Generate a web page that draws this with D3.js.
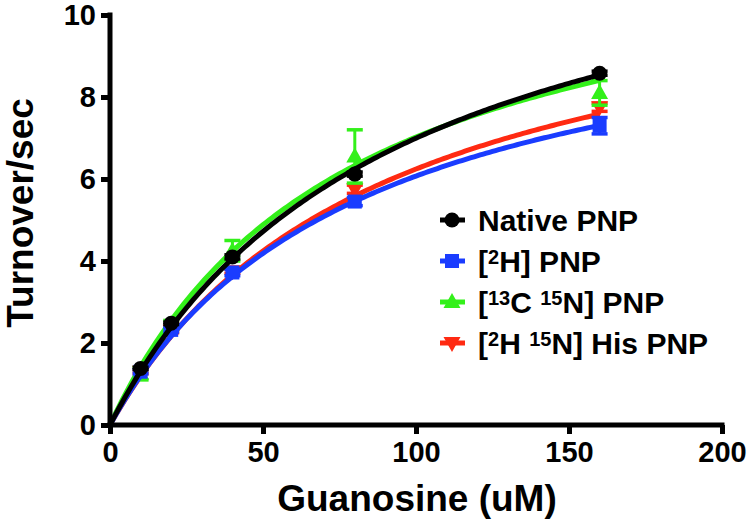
<!DOCTYPE html>
<html>
<head>
<meta charset="utf-8">
<script src="https://cdn.jsdelivr.net/npm/d3@7"></script>
<style>
body{margin:0;background:#fff;}
svg{display:block;font-family:"Liberation Sans",Arial,Helvetica,sans-serif;font-weight:bold;}
</style>
</head>
<body>
<svg id="chart" width="751" height="523"></svg>
<script>
// ---- data ----
const concentrations = [10, 20, 40, 80, 160];
const nativeValues = [1.38, 2.48, 4.10, 6.12, 8.58];
const nativeErrors = [0.03, 0.03, 0.05, 0.05, 0.05];
const h2Values = [1.30, 2.32, 3.72, 5.45, 7.30];
const h2Errors = [0.05, 0.05, 0.08, 0.10, 0.20];
const c13n15Values = [1.25, 2.45, 4.25, 6.55, 8.10];
const c13n15Errors = [0.15, 0.10, 0.25, 0.65, 0.30];
const hisValues = [1.30, 2.30, 3.75, 5.75, 7.75];
const hisErrors = [0.05, 0.05, 0.05, 0.10, 0.10];
// Michaelis-Menten fit parameters [Vmax, Km]
const nativeFit = [13.5, 93];
const h2Fit = [11.05, 82];
const c13n15Fit = [12.5, 78];
const hisFit = [11.8, 89];
const xTicks = [0, 50, 100, 150, 200];
const yTicks = [0, 2, 4, 6, 8, 10];

const series = [
  {name:"his", values:hisValues, errors:hisErrors, fit:hisFit, color:"#ff2a12", symbol:"down"},
  {name:"c13", values:c13n15Values, errors:c13n15Errors, fit:c13n15Fit, color:"#33f01a", symbol:"up"},
  {name:"h2", values:h2Values, errors:h2Errors, fit:h2Fit, color:"#1a3cff", symbol:"square"},
  {name:"native", values:nativeValues, errors:nativeErrors, fit:nativeFit, color:"#000000", symbol:"circle"}
];

const svg = d3.select("#chart");
const x = d3.scaleLinear().domain([0, 200]).range([110, 722]);
const y = d3.scaleLinear().domain([0, 10]).range([425, 15]);

function drawSymbol(g, type, cx, cy, color) {
  if (type === "circle") {
    g.append("circle").attr("cx", cx).attr("cy", cy).attr("r", 7.5).attr("fill", color);
  } else if (type === "square") {
    g.append("rect").attr("x", cx - 7).attr("y", cy - 7).attr("width", 14).attr("height", 14).attr("fill", color);
  } else if (type === "up") {
    g.append("path").attr("d", `M${cx},${cy-9}L${cx+8.5},${cy+6}L${cx-8.5},${cy+6}Z`).attr("fill", color);
  } else {
    g.append("path").attr("d", `M${cx},${cy+9}L${cx+8.5},${cy-6}L${cx-8.5},${cy-6}Z`).attr("fill", color);
  }
}

const plot = svg.append("g");
series.forEach(s => {
  const g = plot.append("g");
  const [vmax, km] = s.fit;
  const pts = d3.range(0, 160.01, 1).map(c => [c, vmax * c / (km + c)]);
  g.append("path")
    .attr("d", d3.line().x(d => x(d[0])).y(d => y(d[1]))(pts))
    .attr("fill", "none").attr("stroke", s.color).attr("stroke-width", 5);
  concentrations.forEach((c, i) => {
    const v = s.values[i], e = s.errors[i];
    const cx = x(c);
    g.append("line").attr("x1", cx).attr("x2", cx).attr("y1", y(v - e)).attr("y2", y(v + e))
      .attr("stroke", s.color).attr("stroke-width", 3);
    [v - e, v + e].forEach(t => {
      g.append("line").attr("x1", cx - 8).attr("x2", cx + 8).attr("y1", y(t)).attr("y2", y(t))
        .attr("stroke", s.color).attr("stroke-width", 3.5);
    });
  });
  concentrations.forEach((c, i) => drawSymbol(g, s.symbol, x(c), y(s.values[i]), s.color));
});

// axes
const xAxis = svg.append("g").attr("transform", "translate(0,425)")
  .call(d3.axisBottom(x).tickValues(xTicks).tickSize(9).tickPadding(7).tickSizeOuter(0));
const yAxis = svg.append("g").attr("transform", "translate(110,0)")
  .call(d3.axisLeft(y).tickValues(yTicks).tickSize(9).tickPadding(5).tickSizeOuter(0));
[xAxis, yAxis].forEach(a => {
  a.select(".domain").attr("stroke", "#000").attr("stroke-width", 5);
  a.selectAll(".tick line").attr("stroke", "#000").attr("stroke-width", 5);
  a.selectAll(".tick text").attr("fill", "#000").style("font-size", "29px")
   .style("font-family", "'Liberation Sans',Arial,sans-serif").style("font-weight", "bold");
});
xAxis.select(".domain").attr("d", "M107.5,0H724.5");
yAxis.select(".domain").attr("d", "M0,12.5V427.5");

svg.append("text").attr("x", 417).attr("y", 511).attr("text-anchor", "middle")
  .style("font-size", "37px").text("Guanosine (uM)");
svg.append("text").attr("transform", "translate(33,213) rotate(-90)").attr("text-anchor", "middle")
  .style("font-size", "37px").text("Turnover/sec");

// legend
const legendItems = [
  {symbol:"circle", color:"#000000", parts:[["Native PNP", false]]},
  {symbol:"square", color:"#1a3cff", parts:[["[", false], ["2", true], ["H] PNP", false]]},
  {symbol:"up", color:"#33f01a", parts:[["[", false], ["13", true], ["C ", false], ["15", true], ["N] PNP", false]]},
  {symbol:"down", color:"#ff2a12", parts:[["[", false], ["2", true], ["H ", false], ["15", true], ["N] His PNP", false]]}
];
const legend = svg.append("g");
legendItems.forEach((item, i) => {
  const cy = 220 + i * 41;
  legend.append("line").attr("x1", 440).attr("x2", 465).attr("y1", cy).attr("y2", cy)
    .attr("stroke", item.color).attr("stroke-width", 5);
  drawSymbol(legend, item.symbol, 452, cy, item.color);
  const t = legend.append("text").attr("x", 478).attr("y", cy + 11).style("font-size", "30px");
  item.parts.forEach(([txt, sup]) => {
    t.append("tspan").text(txt)
      .attr("baseline-shift", sup ? "40%" : null)
      .style("font-size", sup ? "20px" : null);
  });
});
</script>
</body>
</html>
